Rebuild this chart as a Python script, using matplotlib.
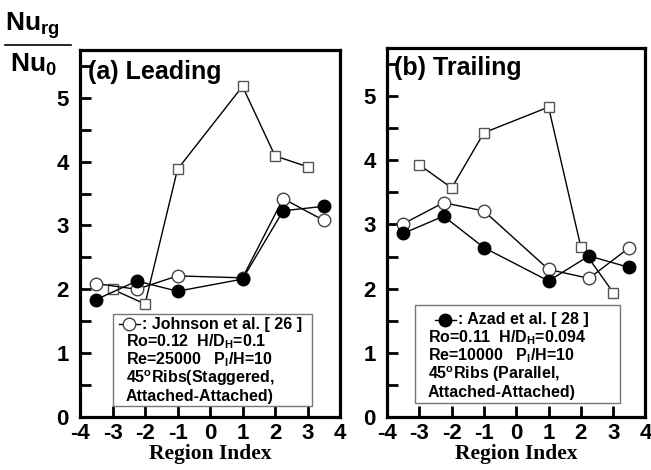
import matplotlib.pyplot as plt
from matplotlib.lines import Line2D
from matplotlib.patches import Rectangle
from matplotlib.ticker import MultipleLocator

plt.rcParams['font.family'] = 'Liberation Sans'
plt.rcParams['font.weight'] = 'bold'
plt.rcParams['axes.unicode_minus'] = False
plt.rcParams['mathtext.fontset'] = 'custom'
plt.rcParams['mathtext.rm'] = 'Liberation Sans:bold'
plt.rcParams['mathtext.it'] = 'Liberation Sans:bold'
plt.rcParams['mathtext.bf'] = 'Liberation Sans:bold'

# (a) Leading side
lead_sq_x = [-3, -2, -1, 1, 2, 3]
lead_sq_y = [2.0, 1.77, 3.88, 5.18, 4.09, 3.92]
lead_open_x = [-3.5, -2.25, -1, 1, 2.25, 3.5]
lead_open_y = [2.09, 2.0, 2.21, 2.18, 3.42, 3.08]
lead_fill_x = [-3.5, -2.25, -1, 1, 2.25, 3.5]
lead_fill_y = [1.84, 2.13, 1.97, 2.16, 3.23, 3.30]

# (b) Trailing side
trail_sq_x = [-3, -2, -1, 1, 2, 3]
trail_sq_y = [3.93, 3.57, 4.43, 4.83, 2.65, 1.94]
trail_open_x = [-3.5, -2.25, -1, 1, 2.25, 3.5]
trail_open_y = [3.01, 3.34, 3.21, 2.30, 2.16, 2.64]
trail_fill_x = [-3.5, -2.25, -1, 1, 2.25, 3.5]
trail_fill_y = [2.86, 3.13, 2.64, 2.12, 2.51, 2.33]

lead_notes = ["Ro=0.12  H/D$_\\mathrm{H}$=0.1",
              "Re=25000   P$_\\mathrm{l}$/H=10",
              "45$^\\mathrm{o}$Ribs(Staggered,",
              "Attached-Attached)"]
trail_notes = ["Ro=0.11  H/D$_\\mathrm{H}$=0.094",
               "Re=10000   P$_\\mathrm{l}$/H=10",
               "45$^\\mathrm{o}$Ribs (Parallel,",
               "Attached-Attached)"]

fig = plt.figure(figsize=(6.51, 4.70), dpi=100)
ax1 = fig.add_axes([0.1229, 0.1128, 0.3994, 0.781])
ax2 = fig.add_axes([0.5945, 0.1128, 0.397, 0.785])

sq_style = dict(marker='s', ms=7, mfc='white', mec='#555555', mew=1.0,
                color='black', lw=1.0)
open_style = dict(marker='o', ms=9, mfc='white', mec='#444444', mew=1.0,
                  color='black', lw=1.0)
fill_style = dict(marker='o', ms=9, mfc='black', mec='black',
                  color='black', lw=1.0)


def setup(ax, title, tx, ty):
    ax.set_xlim(-4, 4)
    ax.set_ylim(0, 5.75)
    ax.xaxis.set_major_locator(MultipleLocator(1))
    ax.yaxis.set_major_locator(MultipleLocator(1))
    ax.yaxis.set_minor_locator(MultipleLocator(0.5))
    ax.tick_params(which='both', direction='in', top=False, right=False,
                   width=2, length=8, labelsize=16)
    ax.tick_params(axis='x', pad=4)
    ax.tick_params(axis='y', pad=8)
    for s in ax.spines.values():
        s.set_linewidth(2.3)
    ax.set_xlabel("Region Index", family='Liberation Serif',
                  fontweight='bold', fontsize=15.5, labelpad=0)
    ax.text(tx, ty, title, transform=ax.transAxes, fontsize=18,
            fontweight='bold', ha='left', va='center')


def notebox(ax, x0, y0, x1, y1, sample, label, notes, lx, ly, dy):
    ax.add_patch(Rectangle((x0, y0), x1 - x0, y1 - y0, transform=ax.transAxes,
                           fill=False, ec='#777777', lw=1.0, zorder=5))
    ax.plot([lx - 0.04, lx, lx + 0.04], [ly, ly, ly], transform=ax.transAxes,
            clip_on=False, markevery=[1], **sample)
    ax.text(lx + 0.05, ly, ": " + label, transform=ax.transAxes,
            fontsize=11.5, va='center', ha='left')
    for i, t in enumerate(notes):
        ax.text(x0 + 0.05, ly - dy * (i + 1), t, transform=ax.transAxes,
                fontsize=11.5, va='center', ha='left')


setup(ax1, "(a) Leading", 0.03, 0.94)
ax1.plot(lead_sq_x, lead_sq_y, **sq_style)
ax1.plot(lead_open_x, lead_open_y, **open_style)
ax1.plot(lead_fill_x, lead_fill_y, **fill_style)
notebox(ax1, 0.127, 0.030, 0.892, 0.281,
        dict(marker='o', ms=9, mfc='white', mec='#444444', color='black', lw=1),
        "Johnson et al. [ 26 ]", lead_notes, 0.19, 0.253, 0.049)

setup(ax2, "(b) Trailing", 0.027, 0.946)
ax2.plot(trail_sq_x, trail_sq_y, **sq_style)
ax2.plot(trail_open_x, trail_open_y, **open_style)
ax2.plot(trail_fill_x, trail_fill_y, **fill_style)
notebox(ax2, 0.107, 0.038, 0.900, 0.304,
        dict(marker='o', ms=9, mfc='black', mec='black', color='black', lw=1),
        "Azad et al. [ 28 ]", trail_notes, 0.225, 0.263, 0.049)

# y-axis label as a fraction
fig.text(0.008, 0.945, "Nu$_\\mathrm{rg}$", fontsize=19, fontweight='bold',
         ha='left', va='center')
fig.add_artist(Line2D([0.008, 0.109], [0.905, 0.905], transform=fig.transFigure,
                      color='black', lw=1.2))
fig.text(0.015, 0.862, "Nu$_\\mathrm{0}$", fontsize=19, fontweight='bold',
         ha='left', va='center')

fig.savefig("out.png", dpi=100)
